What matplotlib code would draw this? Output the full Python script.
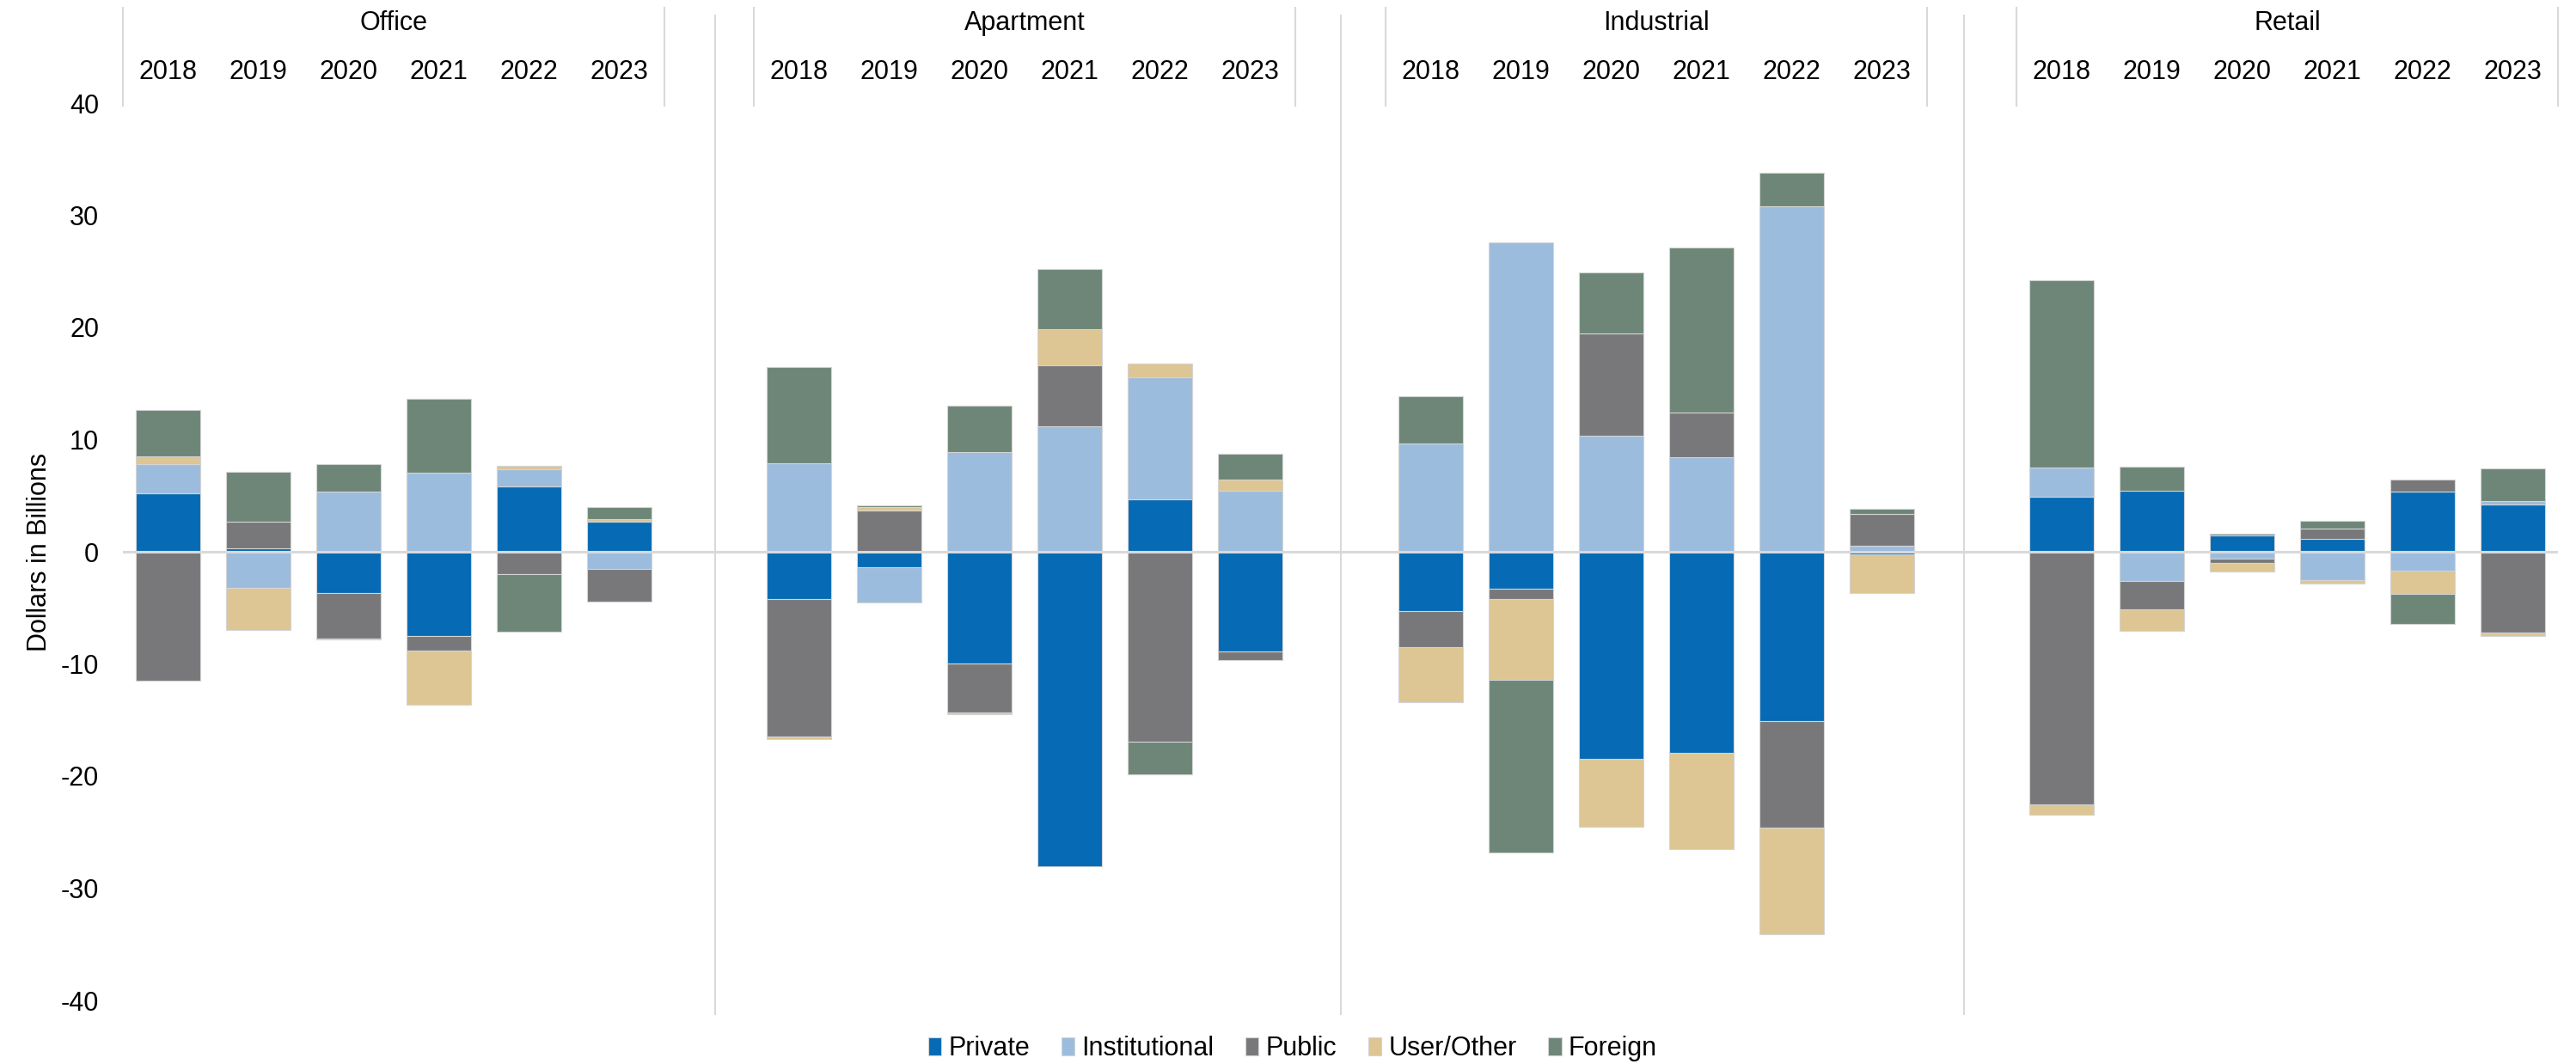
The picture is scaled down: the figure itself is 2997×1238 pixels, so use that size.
import matplotlib
matplotlib.use("Agg")
import matplotlib.pyplot as plt
import matplotlib.transforms as mtransforms
import numpy as np

plt.rcParams['font.family'] = ['Liberation Sans', 'DejaVu Sans']

# property types and years shown in each panel
categories = ['Office', 'Apartment', 'Industrial', 'Retail']
years = ['2018', '2019', '2020', '2021', '2022', '2023']
series_names = ['Private', 'Institutional', 'Public', 'User/Other', 'Foreign']
series_colors = ['#066AB4', '#9CBCDE', '#78787A', '#DDC693', '#6D8677']

# net acquisitions, $bn; per category: 2018..2023
private = [5.2, 0.3, -3.7, -7.5, 5.8, 2.65,
           -4.25, -1.35, -9.95, -28.05, 4.7, -8.9,
           -5.3, -3.3, -18.45, -17.95, -15.1, -0.25,
           4.9, 5.45, 1.45, 1.15, 5.4, 4.2]
institutional = [2.65, -3.2, 5.4, 7.05, 1.55, -1.5,
                 7.9, -3.2, 8.9, 11.2, 10.85, 5.45,
                 9.65, 27.55, 10.35, 8.4, 30.8, 0.5,
                 2.6, -2.6, -0.6, -2.55, -1.7, 0.3]
public = [-11.5, 2.35, -4.05, -1.3, -2.0, -2.95,
          -12.25, 3.65, -4.4, 5.45, -16.95, -0.75,
          -3.2, -0.95, 9.1, 4.0, -9.5, 2.85,
          -22.5, -2.55, -0.4, 0.95, 1.05, -7.2]
user_other = [0.65, -3.8, -0.1, -4.85, 0.3, 0.3,
              -0.2, 0.3, -0.15, 3.2, 1.2, 1.0,
              -4.9, -7.15, -6.1, -8.55, -9.5, -3.45,
              -0.95, -1.9, -0.8, -0.3, -2.05, -0.3]
foreign = [4.15, 4.45, 2.4, 6.6, -5.1, 1.05,
           8.6, 0.2, 4.1, 5.35, -2.9, 2.25,
           4.2, -15.4, 5.45, 14.7, 3.0, 0.45,
           16.7, 2.1, 0.15, 0.65, -2.7, 2.95]

y_ticks = [-40, -30, -20, -10, 0, 10, 20, 30, 40]

W, H = 2997, 1238
fig = plt.figure(figsize=(W / 100, H / 100), dpi=100)
ax = fig.add_axes([143 / W, 74 / H, (2976 - 143) / W, (1118 - 74) / H])

# each panel holds 6 year slots, panels start every 7 slots
group_step = 7
x = np.array([g * group_step + i + 0.5
              for g in range(len(categories)) for i in range(len(years))])

pos_base = np.zeros(len(x))
neg_base = np.zeros(len(x))
all_series = [private, institutional, public, user_other, foreign]
for name, vals, color in zip(series_names, all_series, series_colors):
    vals = np.array(vals)
    bottoms = np.where(vals >= 0, pos_base, neg_base)
    ax.bar(x, vals, bottom=bottoms, width=0.714, color=color, label=name,
           edgecolor='#d4d4d4', linewidth=0.8, zorder=2)
    pos_base += np.where(vals >= 0, vals, 0)
    neg_base += np.where(vals < 0, vals, 0)

ax.axhline(0, color='#d9d9d9', linewidth=2.2, zorder=3)

ax.set_xlim(0, 27)
ax.set_ylim(-40, 40)
ax.set_yticks(y_ticks, labels=[str(t) for t in y_ticks])
ax.set_xticks([])
ax.tick_params(axis='y', length=0, pad=20, labelsize=22)
for s in ax.spines.values():
    s.set_visible(False)
ax.set_ylabel('Dollars in Billions', fontsize=22)
ax.yaxis.set_label_coords(-0.029, 0.5)

# header: category titles, years and boxes above the plot
trans = mtransforms.blended_transform_factory(ax.transData, fig.transFigure)
for g, cat in enumerate(categories):
    start = g * group_step
    ax.text(start + 3, 1 - 27 / H, cat, transform=trans, ha='center',
            va='center', fontsize=22)
    for i, yr in enumerate(years):
        ax.text(start + i + 0.5, 1 - 84 / H, yr, transform=trans,
                ha='center', va='center', fontsize=22)
    for xe in (start, start + 6):
        ax.plot([xe, xe], [1 - 9 / H, 1 - 123 / H], transform=trans,
                color='#d9d9d9', linewidth=1.5, clip_on=False)

# separators between panels
for xd in (6.57, 13.5, 20.41):
    ax.plot([xd, xd], [1 - 18 / H, 1 - 1180 / H], transform=trans,
            color='#d9d9d9', linewidth=1.5, clip_on=False)

fig.legend(loc='center', bbox_to_anchor=(1504 / W, 1 - 1220 / H), ncol=5,
           frameon=False, fontsize=22, handlelength=0.5, handleheight=0.7,
           handletextpad=0.27, columnspacing=1.2, borderaxespad=0)

fig.savefig('out.png', dpi=100)
